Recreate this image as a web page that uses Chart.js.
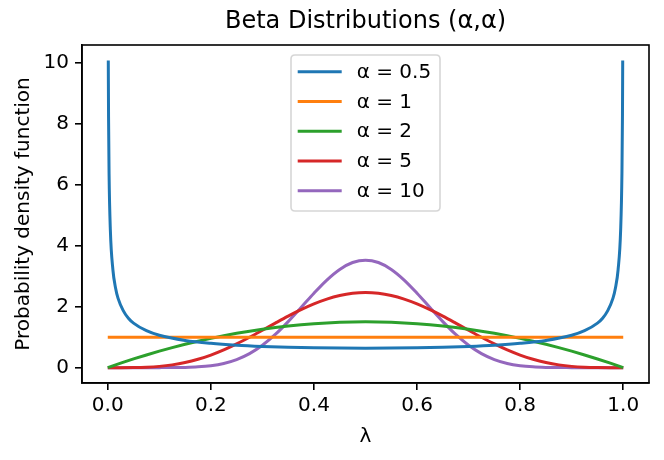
<!DOCTYPE html>
<html>
<head>
<meta charset="utf-8">
<script src="https://cdn.jsdelivr.net/npm/chart.js@4.4.1/dist/chart.umd.min.js"></script>
<style>
  html, body { margin: 0; padding: 0; background: #fff; }
  #wrap { width: 664px; height: 460px; }
</style>
</head>
<body>
<div id="wrap"><canvas id="c" width="664" height="460"></canvas></div>
<script>
// ---- Data ----
const alphas = [0.5, 1, 2, 5, 10];
const seriesColors = ['#1f77b4', '#ff7f0e', '#2ca02c', '#d62728', '#9467bd'];

// alpha = 0.5 (U-shaped, sampled densely near the edges)
const xHalf = [0.001, 0.0015, 0.0025, 0.005, 0.01, 0.015, 0.02, 0.03, 0.04, 0.05, 0.075, 0.1, 0.15, 0.2, 0.25, 0.3, 0.35, 0.4, 0.45, 0.5,
               0.55, 0.6, 0.65, 0.7, 0.75, 0.8, 0.85, 0.9, 0.925, 0.95, 0.96, 0.97, 0.98, 0.985, 0.99, 0.995, 0.9975, 0.9985, 0.999];
const yHalf = [10.07, 8.23, 6.37, 4.51, 3.20, 2.62, 2.27, 1.87, 1.62, 1.46, 1.21, 1.06, 0.891, 0.796, 0.735, 0.695, 0.667, 0.650, 0.640, 0.637,
               0.640, 0.650, 0.667, 0.695, 0.735, 0.796, 0.891, 1.06, 1.21, 1.46, 1.62, 1.87, 2.27, 2.62, 3.20, 4.51, 6.37, 8.23, 10.07];

// alpha = 1 (flat)
const xOne = [0.0, 1.0];
const yOne = [1.0, 1.0];

// alpha = 2, 5, 10 on a common λ grid
const xGrid = [0, 0.025, 0.05, 0.075, 0.1, 0.125, 0.15, 0.175, 0.2, 0.225, 0.25, 0.275, 0.3, 0.325, 0.35, 0.375, 0.4, 0.425, 0.45, 0.475, 0.5,
               0.525, 0.55, 0.575, 0.6, 0.625, 0.65, 0.675, 0.7, 0.725, 0.75, 0.775, 0.8, 0.825, 0.85, 0.875, 0.9, 0.925, 0.95, 0.975, 1.0];
const yTwo = [0, 0.146, 0.285, 0.416, 0.54, 0.656, 0.765, 0.866, 0.96, 1.046, 1.125, 1.196, 1.26, 1.316, 1.365, 1.406, 1.44, 1.466, 1.485, 1.496, 1.5,
              1.496, 1.485, 1.466, 1.44, 1.406, 1.365, 1.316, 1.26, 1.196, 1.125, 1.046, 0.96, 0.866, 0.765, 0.656, 0.54, 0.416, 0.285, 0.146, 0];
const yFive = [0, 0.0002, 0.0032, 0.0146, 0.0413, 0.0902, 0.1665, 0.2737, 0.4129, 0.5825, 0.7787, 0.9955, 1.2252, 1.4591, 1.6876, 1.9010, 2.0902, 2.2468, 2.3640, 2.4364, 2.4609,
               2.4364, 2.3640, 2.2468, 2.0902, 1.9010, 1.6876, 1.4591, 1.2252, 0.9955, 0.7787, 0.5825, 0.4129, 0.2737, 0.1665, 0.0902, 0.0413, 0.0146, 0.0032, 0.0002, 0];
const yTen = [0, 0, 0, 0.00003, 0.0004, 0.0021, 0.0082, 0.0252, 0.0635, 0.1377, 0.2646, 0.4598, 0.7337, 1.0871, 1.5080, 1.9714, 2.4405, 2.8713, 3.2192, 3.4454, 3.5239,
              3.4454, 3.2192, 2.8713, 2.4405, 1.9714, 1.5080, 1.0871, 0.7337, 0.4598, 0.2646, 0.1377, 0.0635, 0.0252, 0.0082, 0.0021, 0.0004, 0.00003, 0, 0, 0];

const xTicks = [0, 0.2, 0.4, 0.6, 0.8, 1.0];
const xTickLabels = ['0.0', '0.2', '0.4', '0.6', '0.8', '1.0'];
const yTicks = [0, 2, 4, 6, 8, 10];
const yTickLabels = ['0', '2', '4', '6', '8', '10'];

const titleText = 'Beta Distributions (α,α)';
const xTitle = 'λ';
const yTitle = 'Probability density function';

// ---- Build datasets ----
function pts(xs, ys) { return xs.map((x, i) => ({ x: x, y: ys[i] })); }
const seriesX = [xHalf, xOne, xGrid, xGrid, xGrid];
const seriesY = [yHalf, yOne, yTwo, yFive, yTen];

const datasets = alphas.map((a, i) => ({
  label: 'α = ' + a,
  data: pts(seriesX[i], seriesY[i]),
  borderColor: seriesColors[i],
  backgroundColor: seriesColors[i],
  borderWidth: 3,
  pointRadius: 0,
  fill: false,
  cubicInterpolationMode: 'monotone',
  borderJoinStyle: 'round',
  borderCapStyle: 'butt'
}));

const FONT = "'DejaVu Sans', 'Liberation Sans', sans-serif";

// frame (top/right spines) + legend inside the plot
const framePlugin = {
  id: 'frameAndLegend',
  afterDraw(chart) {
    const ctx = chart.ctx;
    const a = chart.chartArea;
    ctx.save();
    ctx.strokeStyle = '#000';
    ctx.lineWidth = 1.6;
    ctx.strokeRect(a.left, a.top, a.right - a.left, a.bottom - a.top);

    // legend
    const boxW = 149, boxH = 156;
    const bx = (a.left + a.right) / 2 - boxW / 2;
    const by = a.top + 10;
    const r = 4;
    ctx.beginPath();
    ctx.moveTo(bx + r, by);
    ctx.lineTo(bx + boxW - r, by);
    ctx.quadraticCurveTo(bx + boxW, by, bx + boxW, by + r);
    ctx.lineTo(bx + boxW, by + boxH - r);
    ctx.quadraticCurveTo(bx + boxW, by + boxH, bx + boxW - r, by + boxH);
    ctx.lineTo(bx + r, by + boxH);
    ctx.quadraticCurveTo(bx, by + boxH, bx, by + boxH - r);
    ctx.lineTo(bx, by + r);
    ctx.quadraticCurveTo(bx, by, bx + r, by);
    ctx.closePath();
    ctx.fillStyle = 'rgba(255,255,255,0.8)';
    ctx.fill();
    ctx.strokeStyle = 'rgba(204,204,204,0.8)';
    ctx.lineWidth = 1.6;
    ctx.stroke();

    ctx.font = '20px ' + FONT;
    ctx.textBaseline = 'middle';
    ctx.textAlign = 'left';
    chart.data.datasets.forEach((ds, i) => {
      const cy = by + 16.7 + i * 29.75;
      ctx.strokeStyle = ds.borderColor;
      ctx.lineWidth = 3;
      ctx.beginPath();
      ctx.moveTo(bx + 6.7, cy);
      ctx.lineTo(bx + 50.7, cy);
      ctx.stroke();
      ctx.fillStyle = '#000';
      ctx.fillText(ds.label, bx + 65.7, cy + 1);
    });
    ctx.restore();
  }
};

new Chart(document.getElementById('c'), {
  type: 'line',
  data: { datasets: datasets },
  options: {
    responsive: false,
    animation: false,
    devicePixelRatio: 1,
    layout: { padding: { left: 0, right: 15, top: 0, bottom: 0 } },
    plugins: {
      legend: { display: false },
      tooltip: { enabled: false },
      title: {
        display: true,
        text: titleText,
        fullSize: false,
        color: '#000',
        font: { family: FONT, size: 24, weight: 'normal', lineHeight: 1.2 },
        padding: { top: 7.5, bottom: 8.7 }
      }
    },
    scales: {
      x: {
        type: 'linear',
        min: -0.05,
        max: 1.05,
        afterBuildTicks: (s) => { s.ticks = xTicks.map(v => ({ value: v })); },
        afterFit: (s) => { s.height = 77; s.paddingLeft = 0; s.paddingRight = 0; },
        ticks: {
          color: '#000',
          font: { family: FONT, size: 20 },
          padding: 4,
          maxRotation: 0,
          autoSkip: false,
          callback: (v) => { const k = xTicks.findIndex(t => Math.abs(t - v) < 1e-9); return k >= 0 ? xTickLabels[k] : ''; }
        },
        grid: { display: true, drawOnChartArea: false, drawTicks: true, tickLength: 7, color: '#000', lineWidth: 1.6 },
        border: { display: true, color: '#000', width: 1.6 },
        title: {
          display: true, text: xTitle, color: '#000',
          font: { family: FONT, size: 20, lineHeight: 1.2 },
          padding: { top: 0, bottom: 11 }
        }
      },
      y: {
        type: 'linear',
        min: -0.5035,
        max: 10.575,
        afterBuildTicks: (s) => { s.ticks = yTicks.map(v => ({ value: v })); },
        afterFit: (s) => { s.width = 82; s.paddingTop = 0; s.paddingBottom = 0; },
        ticks: {
          color: '#000',
          font: { family: FONT, size: 20 },
          padding: 6,
          autoSkip: false,
          callback: (v) => { const k = yTicks.findIndex(t => Math.abs(t - v) < 1e-9); return k >= 0 ? yTickLabels[k] : ''; }
        },
        grid: { display: true, drawOnChartArea: false, drawTicks: true, tickLength: 7, color: '#000', lineWidth: 1.6 },
        border: { display: true, color: '#000', width: 1.6 },
        title: {
          display: true, text: yTitle, color: '#000',
          font: { family: FONT, size: 20, lineHeight: 1.2 },
          padding: { top: 12, bottom: 0 }
        }
      }
    }
  },
  plugins: [framePlugin]
});
</script>
</body>
</html>
